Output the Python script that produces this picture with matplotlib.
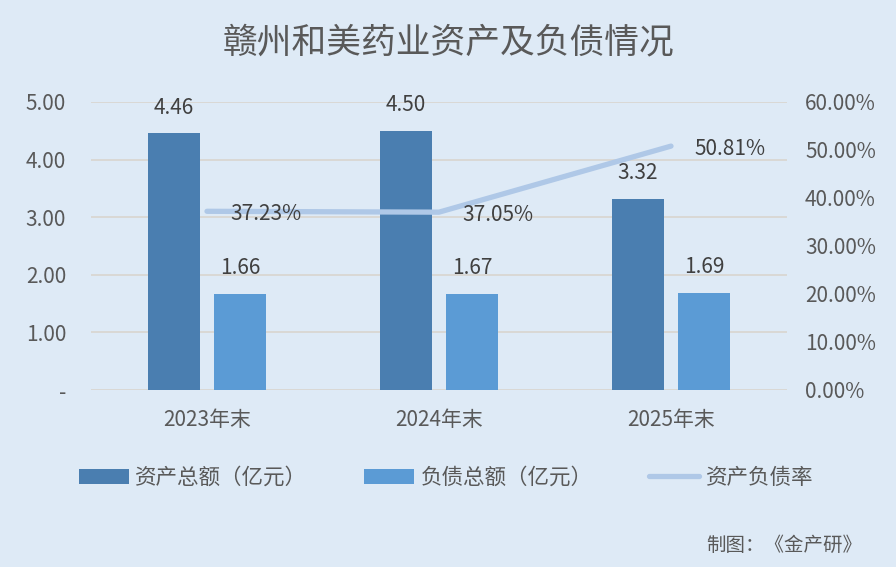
import matplotlib
matplotlib.use('Agg')
import matplotlib.pyplot as plt
import numpy as np

plt.rcParams['font.family'] = ['Noto Sans CJK SC', 'DejaVu Sans']

# data
categories = ['2023年末', '2024年末', '2025年末']
total_assets = [4.46, 4.50, 3.32]      # 资产总额（亿元）
total_liab = [1.66, 1.67, 1.69]        # 负债总额（亿元）
debt_ratio = [37.23, 37.05, 50.81]     # 资产负债率 %
left_ticks = [0, 1, 2, 3, 4, 5]
right_ticks = [0, 10, 20, 30, 40, 50, 60]

bg = '#DEEAF6'
c_assets = '#4A7EB0'
c_liab = '#5B9BD5'
c_line = '#AFC8E7'
txt = '#595959'
lbl = '#404040'

fig = plt.figure(figsize=(8.96, 5.67), dpi=100, facecolor=bg)
ax = fig.add_axes([91/896, 1-390/567, 696/896, 288/567])
ax.set_facecolor(bg)
ax2 = ax.twinx()

x = np.arange(len(categories))
w = 0.224
off = 0.142
b1 = ax.bar(x - off, total_assets, w, color=c_assets, zorder=2)
b2 = ax.bar(x + off, total_liab, w, color=c_liab, zorder=2)
for xi, v in zip(x - off, total_assets):
    ax.text(xi, v + 0.44, f'{v:.2f}', ha='center', va='center', fontsize=15, color=lbl)
for xi, v in zip(x + off, total_liab):
    ax.text(xi, v + 0.45, f'{v:.2f}', ha='center', va='center', fontsize=15, color=lbl)

ax.set_xlim(-0.5, 2.5)
ax.set_ylim(0, 5)
ax.set_yticks(left_ticks)
ax.set_yticklabels(['-'] + [f'{t:.2f}' for t in left_ticks[1:]])
ax.grid(axis='y', color='#D9D5CF', linewidth=1.2, zorder=0)
ax.set_axisbelow(True)
ax.set_xticks(x)
ax.set_xticklabels(categories)

ax2.plot(x, debt_ratio, color=c_line, linewidth=3.8, solid_capstyle='round', zorder=3)
for xi, v in zip(x, debt_ratio):
    ax2.text(xi + 0.1, v - 0.6, f'{v:.2f}%', ha='left', va='center', fontsize=15, color=lbl)
ax2.set_ylim(0, 60)
ax2.set_yticks(right_ticks)
ax2.set_yticklabels([f'{t:.2f}%' for t in right_ticks])

for a in (ax, ax2):
    for s in a.spines.values():
        s.set_visible(False)
    a.tick_params(length=0, labelsize=15, labelcolor=txt)
ax.tick_params(axis='y', pad=18)
ax.tick_params(axis='x', pad=14)
ax2.tick_params(axis='y', pad=13)

fig.text(0.5, 1-43/567, '赣州和美药业资产及负债情况', ha='center', va='center', fontsize=25, color=txt)

handles = [b1, b2, ax2.lines[0]]
labels = ['资产总额（亿元）', '负债总额（亿元）', '资产负债率']
fig.legend(handles, labels, loc='center', bbox_to_anchor=(0.498, 1-478/567), ncol=3,
           frameon=False, fontsize=15.5, labelcolor=txt, handlelength=2.3, handleheight=0.7,
           columnspacing=2.65, handletextpad=0.3)

fig.text(862/896, 1-545/567, '制图：《金产研》', ha='right', va='center', fontsize=14, color=txt)

fig.savefig('out.png', dpi=100, facecolor=bg)
